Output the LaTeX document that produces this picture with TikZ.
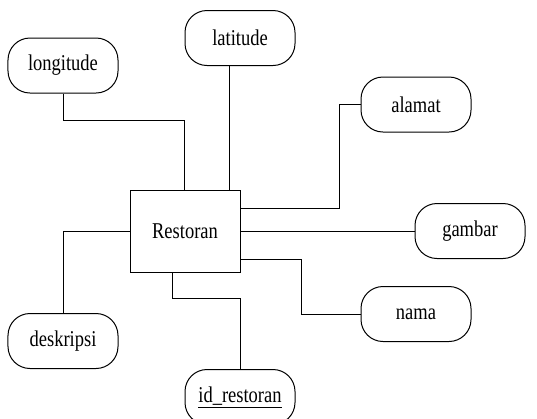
\documentclass[tikz,border=0pt]{standalone}
\usepackage{fontspec}
\usepackage{graphicx}
\setmainfont{Liberation Serif}
\newcommand{\tall}[1]{\scalebox{1}[1.22]{#1}}
\begin{document}
\begin{tikzpicture}[x=1bp, y=-1bp, line width=1bp,
  font=\fontsize{18.5bp}{20bp}\selectfont,
  attr/.style={draw, rounded corners=22bp, minimum width=110bp, minimum height=55bp, inner sep=0pt},
  entity/.style={draw, minimum width=110bp, minimum height=82bp, inner sep=0pt}]
  \useasboundingbox (0,0) rectangle (537,418);
  \node[entity] (res) at (185,231) {\tall{Restoran}};
  \node[attr] (lon) at (63,65.5) {\tall{longitude}};
  \node[attr] (lat) at (240,38) {\tall{latitude}};
  \node[attr] (ala) at (416,104.5) {\tall{alamat}};
  \node[attr] (gam) at (470,231) {\tall{gambar}};
  \node[attr] (nam) at (416,314) {\tall{nama}};
  \node[attr] (des) at (63,341) {\tall{deskripsi}};
  \node[attr] (idr) at (240,397) {\tall{\underline{id\_restoran}}};
  % connectors
  \draw (lon.south) -- ++(0,27) -| ([xshift=-1bp]res.north);
  \draw ([xshift=-11bp]lat.south) -- ([xshift=-11bp]lat.south |- res.north);
  \draw (ala.west) -- ++(-21,0) |- ([yshift=-19bp]res.north east);
  \draw (res.east) -- (gam.west);
  \draw ([yshift=-28bp]res.east) -- ++(61,0) |- (nam.west);
  \draw ([xshift=-13bp]res.south) -- ++(0,26) -| (idr.north);
  \draw (res.west) -| (des.north);
\end{tikzpicture}
\end{document}
